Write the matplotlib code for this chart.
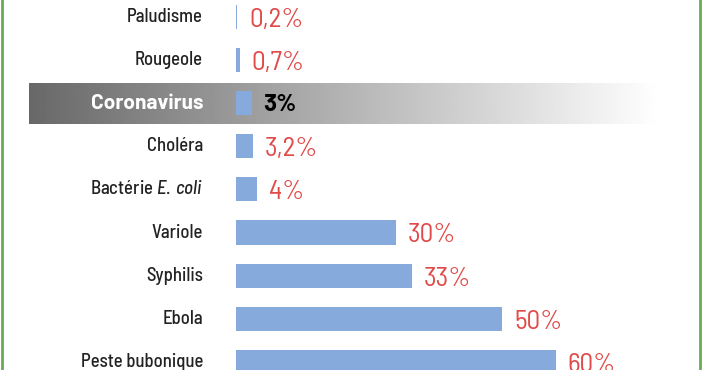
import numpy as np
import matplotlib
matplotlib.use("Agg")
import matplotlib.pyplot as plt
import matplotlib.transforms as mtransforms

plt.rcParams['font.family'] = ['Barlow Semi Condensed', 'Barlow Condensed', 'DejaVu Sans']
plt.rcParams['mathtext.fontset'] = 'custom'
plt.rcParams['mathtext.rm'] = 'Barlow Semi Condensed:medium'
plt.rcParams['mathtext.it'] = 'Barlow Semi Condensed:italic:medium'

# data
maladies = ["Paludisme", "Rougeole", "Coronavirus", "Choléra",
            r"Bactérie $\mathit{E.\,coli}$", "Variole", "Syphilis", "Ebola",
            "Peste bubonique"]
mortalite = [0.2, 0.7, 3, 3.2, 4, 30, 33, 50, 60]
etiquettes = ["0,2%", "0,7%", "3%", "3,2%", "4%", "30%", "33%", "50%", "60%"]
highlight = "Coronavirus"

bar_color = '#86aadb'
red = '#e04a48'

fig = plt.figure(figsize=(7.02, 3.70), dpi=100)
ax = fig.add_axes([0, 0, 1, 1])

# scale: x=0 at pixel 236, ~5.33 px per %
px_per = 5.33
x0 = 236
ax.set_xlim(-x0 / px_per, (702 - x0) / px_per)
row_h = 43.1
ax.set_ylim((370 - 17) / row_h, -17 / row_h)
ax.axis('off')

y = np.arange(len(maladies))

# gradient band behind highlighted row
hi = maladies.index(highlight)
grad = np.linspace(0.41, 1.0, 256)
grad = np.vstack([grad, grad])
trans = mtransforms.blended_transform_factory(ax.transAxes, ax.transData)
ax.imshow(grad, cmap='gray', vmin=0, vmax=1, aspect='auto',
          extent=[29 / 702, 660 / 702, hi + 0.475, hi - 0.475],
          transform=trans, zorder=0, interpolation='bilinear')

widths = [max(v, 0.25) for v in mortalite]
ax.barh(y, widths, height=0.56, color=bar_color, zorder=2)

for i, (name, v, lab) in enumerate(zip(maladies, mortalite, etiquettes)):
    if name == highlight:
        ax.annotate(name, (0, i), xytext=(-33, 0), textcoords='offset pixels',
                    ha='right', va='center', fontsize=15, fontweight='bold',
                    family=['Barlow', 'DejaVu Sans'], color='white', zorder=3)
        ax.annotate(lab, (widths[i], i), xytext=(11, -2), textcoords='offset pixels',
                    ha='left', va='center', fontsize=17.5, fontweight='bold',
                    family=['Barlow', 'DejaVu Sans'], color='black', zorder=3)
    else:
        ax.annotate(name, (0, i), xytext=(-33, 0), textcoords='offset pixels',
                    ha='right', va='center', fontsize=13.5, fontweight='medium',
                    color='#222222', zorder=3)
        ax.annotate(lab, (widths[i], i), xytext=(12, -3), textcoords='offset pixels',
                    ha='left', va='center', fontsize=19.5, fontweight='normal',
                    color=red, zorder=3)

# green side borders
for xb in (2 / 702, 699.5 / 702):
    fig.add_artist(plt.Line2D([xb, xb], [0, 1], transform=fig.transFigure,
                              color='#6aaa50', linewidth=2))

fig.savefig("out.png", dpi=100)
